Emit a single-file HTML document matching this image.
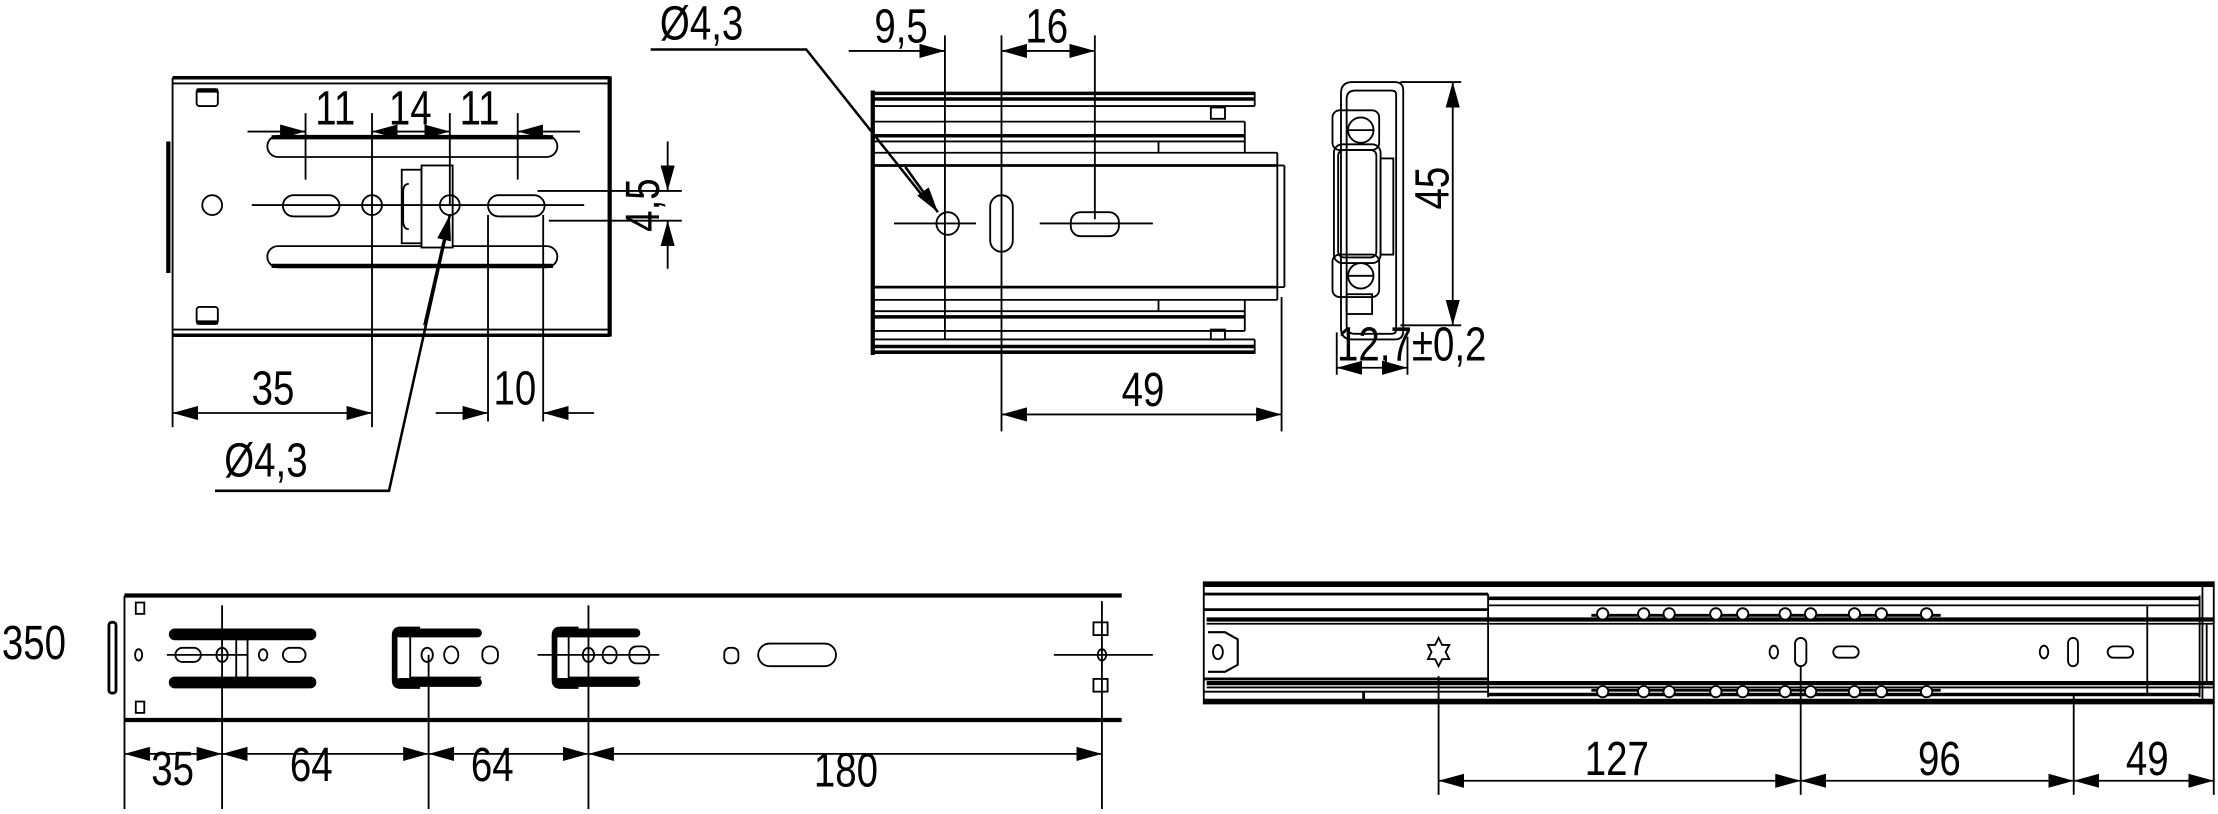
<!DOCTYPE html>
<html><head><meta charset="utf-8"><style>
html,body{margin:0;padding:0;background:#fff}
svg{display:block}
text{font-family:"Liberation Sans Narrow","Liberation Sans",sans-serif;font-size:34px;fill:#000}
</style></head><body>
<svg width="2218" height="814" viewBox="0 0 1568 575.5" preserveAspectRatio="none" xmlns="http://www.w3.org/2000/svg">
<defs>
<marker id="a" markerUnits="userSpaceOnUse" markerWidth="18" markerHeight="10" refX="18" refY="5" orient="auto-start-reverse"><path d="M0,0 L18,5 L0,10 Z" fill="#000"/></marker>
</defs>
<g fill="none" stroke="#000" stroke-width="1.3">
<!-- ===== TOP LEFT VIEW ===== -->
<line x1="122" y1="55" x2="431" y2="55" stroke-width="2.5"/>
<line x1="122" y1="59" x2="431" y2="59"/>
<line x1="122" y1="233" x2="431" y2="233"/>
<line x1="122" y1="237" x2="431" y2="237" stroke-width="2.5"/>
<line x1="122" y1="55" x2="122" y2="237"/>
<line x1="431" y1="54" x2="431" y2="238" stroke-width="3"/>
<line x1="119" y1="100" x2="119" y2="193" stroke-width="3"/>
<rect x="139" y="63" width="15" height="12" rx="2"/>
<rect x="139" y="217" width="15" height="12" rx="2"/>
<line x1="139" y1="64" x2="154" y2="64" stroke-width="3"/>
<line x1="139" y1="228" x2="154" y2="228" stroke-width="3"/>
<circle cx="150" cy="145" r="7"/>
<rect x="189" y="96" width="205" height="15" rx="7.5"/>
<line x1="192" y1="97" x2="391" y2="97" stroke-width="3"/>
<rect x="189" y="174" width="205" height="15" rx="7.5"/>
<line x1="192" y1="188" x2="391" y2="188" stroke-width="3"/>
<rect x="284" y="120" width="14" height="52"/>
<rect x="298" y="117" width="22" height="58" fill="#fff"/>
<path d="M289,130 q-4,0 -4,6 v20 q0,6 4,6"/>
<line x1="178" y1="145" x2="413" y2="145"/>
<rect x="200" y="138" width="40" height="15" rx="7.5"/>
<circle cx="263" cy="145" r="7"/>
<circle cx="318" cy="145" r="7"/>
<rect x="345" y="138" width="40" height="15" rx="7.5"/>
<line x1="216" y1="80" x2="216" y2="127"/>
<line x1="263" y1="80" x2="263" y2="302"/>
<line x1="318" y1="80" x2="318" y2="145"/>
<line x1="366" y1="80" x2="366" y2="127"/>
<line x1="175" y1="93" x2="216" y2="93" marker-end="url(#a)"/>
<line x1="263" y1="93" x2="318" y2="93" marker-start="url(#a)" marker-end="url(#a)"/>
<line x1="410" y1="93" x2="366" y2="93" marker-end="url(#a)"/>
<line x1="380" y1="135" x2="482" y2="135"/>
<line x1="388" y1="156" x2="482" y2="156"/>
<line x1="472" y1="100" x2="472" y2="135" marker-end="url(#a)"/>
<line x1="472" y1="190" x2="472" y2="156" marker-end="url(#a)"/>
<line x1="122" y1="237" x2="122" y2="302"/>
<line x1="345" y1="152" x2="345" y2="298"/>
<line x1="384" y1="152" x2="384" y2="298"/>
<line x1="122" y1="292" x2="263" y2="292" marker-start="url(#a)" marker-end="url(#a)"/>
<line x1="308" y1="292" x2="345" y2="292" marker-end="url(#a)"/>
<line x1="420" y1="292" x2="384" y2="292" marker-end="url(#a)"/>
<polyline points="152,347 275,347 316,163" stroke-width="1.8"/>
<line x1="300" y1="230" x2="318" y2="152" marker-end="url(#a)" stroke-width="1.8"/>

<!-- ===== TOP MIDDLE VIEW ===== -->
<polyline points="460,35 570,35 655,142" stroke-width="1.8"/>
<line x1="640" y1="118" x2="663" y2="150" marker-end="url(#a)" stroke-width="1.8"/>
<line x1="668" y1="25" x2="668" y2="240"/>
<line x1="708" y1="25" x2="708" y2="305"/>
<line x1="774" y1="25" x2="774" y2="155"/>
<line x1="600" y1="36" x2="668" y2="36" marker-end="url(#a)"/>
<line x1="708" y1="36" x2="774" y2="36" marker-start="url(#a)" marker-end="url(#a)"/>
<line x1="617" y1="64" x2="617" y2="251" stroke-width="3"/>
<line x1="617" y1="66" x2="887" y2="66" stroke-width="2.5"/>
<line x1="617" y1="70" x2="887" y2="70" stroke-width="2.5"/>
<line x1="887" y1="65" x2="887" y2="75"/>
<line x1="617" y1="75" x2="887" y2="75"/>
<line x1="617" y1="86" x2="880" y2="86"/>
<line x1="617" y1="96" x2="880" y2="96" stroke-width="2.5"/>
<line x1="617" y1="100" x2="880" y2="100"/>
<line x1="880" y1="86" x2="880" y2="108"/>
<line x1="617" y1="108" x2="903" y2="108"/>
<line x1="617" y1="117" x2="903" y2="117" stroke-width="2"/>
<line x1="903" y1="108" x2="903" y2="212"/>
<line x1="908" y1="117" x2="908" y2="203"/>
<line x1="903" y1="117" x2="908" y2="117"/>
<line x1="903" y1="203" x2="908" y2="203"/>
<line x1="617" y1="203" x2="903" y2="203" stroke-width="2"/>
<line x1="617" y1="212" x2="903" y2="212"/>
<line x1="617" y1="220" x2="880" y2="220"/>
<line x1="617" y1="224" x2="880" y2="224" stroke-width="2.5"/>
<line x1="617" y1="234" x2="880" y2="234"/>
<line x1="880" y1="212" x2="880" y2="234"/>
<line x1="617" y1="240" x2="887" y2="240"/>
<line x1="617" y1="245" x2="887" y2="245" stroke-width="2.5"/>
<line x1="617" y1="249" x2="887" y2="249" stroke-width="2.5"/>
<line x1="887" y1="240" x2="887" y2="250"/>
<line x1="819" y1="100" x2="819" y2="108"/>
<line x1="819" y1="212" x2="819" y2="220"/>
<rect x="856" y="76" width="10" height="8"/>
<rect x="856" y="233" width="10" height="7"/>
<line x1="632" y1="158" x2="690" y2="158"/>
<line x1="735" y1="158" x2="815" y2="158"/>
<circle cx="670" cy="158" r="8"/>
<rect x="700" y="138" width="16" height="40" rx="8"/>
<rect x="757" y="150" width="34" height="17" rx="7"/>
<line x1="906" y1="210" x2="906" y2="305"/>
<line x1="708" y1="293" x2="906" y2="293" marker-start="url(#a)" marker-end="url(#a)"/>

<!-- ===== SIDE PROFILE ===== -->
<path d="M948,66 q0,-8 8,-8 h30 q6,0 6,6 v170 q0,6 -6,6 h-30 q-8,0 -8,-8 z"/>
<path d="M952,70 q0,-6 6,-6 h26 q3,0 3,3 v166 q0,3 -3,3 h-26 q-6,0 -6,-6 z"/>
<rect x="943" y="102" width="33" height="84" rx="6"/>
<rect x="946" y="106" width="27" height="76" rx="4"/>
<rect x="976" y="112" width="9" height="68"/>
<rect x="942" y="78" width="33" height="28" rx="5"/>
<rect x="942" y="180" width="33" height="30" rx="5"/>
<circle cx="962" cy="92" r="9"/>
<circle cx="962" cy="195" r="9"/>
<line x1="953" y1="92" x2="971" y2="92"/>
<line x1="953" y1="195" x2="971" y2="195"/>
<rect x="952" y="208" width="18" height="14"/>
<line x1="990" y1="58" x2="1033" y2="58"/>
<line x1="990" y1="230" x2="1033" y2="230"/>
<line x1="1027" y1="58" x2="1027" y2="230" marker-start="url(#a)" marker-end="url(#a)"/>
<line x1="945" y1="235" x2="945" y2="265"/>
<line x1="995" y1="238" x2="995" y2="265"/>
<line x1="945" y1="260" x2="995" y2="260" marker-start="url(#a)" marker-end="url(#a)"/>

<!-- ===== BOTTOM LEFT VIEW ===== -->
<line x1="88" y1="421" x2="793" y2="421" stroke-width="3"/>
<line x1="88" y1="509" x2="793" y2="509" stroke-width="3"/>
<line x1="88" y1="421" x2="88" y2="509"/>
<rect x="77" y="440" width="5" height="50" rx="2" stroke-width="2"/>
<rect x="96" y="426" width="6" height="8"/>
<rect x="96" y="496" width="6" height="8"/>
<ellipse cx="98" cy="463" rx="2.5" ry="4"/>
<rect x="120" y="445" width="103" height="7" rx="3.5" fill="#000"/>
<rect x="120" y="479" width="103" height="7" rx="3.5" fill="#000"/>
<line x1="118" y1="463" x2="175" y2="463"/>
<rect x="124" y="458" width="18" height="10" rx="5"/>
<ellipse cx="157" cy="463" rx="4" ry="5"/>
<rect x="167" y="452" width="8" height="27"/>
<ellipse cx="186" cy="463" rx="3" ry="4"/>
<rect x="200" y="458" width="16" height="10" rx="5"/>
<path d="M297,445 h-14 q-4,0 -4,4 v32 q0,4 4,4 h14" stroke-width="4"/>
<path d="M340,447 h-50 v32 h50"/>
<rect x="280" y="445" width="60" height="5" rx="2.5" fill="#000"/>
<rect x="280" y="480" width="60" height="5" rx="2.5" fill="#000"/>
<ellipse cx="302" cy="463" rx="4" ry="5"/>
<ellipse cx="319" cy="463" rx="5" ry="6"/>
<rect x="341" y="457" width="11" height="12" rx="5"/>
<path d="M409,445 h-13 q-4,0 -4,4 v32 q0,4 4,4 h13" stroke-width="4"/>
<path d="M452,447 h-50 v32 h50"/>
<rect x="392" y="445" width="60" height="5" rx="2.5" fill="#000"/>
<rect x="392" y="480" width="60" height="5" rx="2.5" fill="#000"/>
<line x1="380" y1="463" x2="466" y2="463"/>
<ellipse cx="416" cy="463" rx="4" ry="5"/>
<ellipse cx="431" cy="463" rx="5" ry="6"/>
<rect x="445" y="457" width="14" height="12" rx="5"/>
<rect x="512" y="458" width="10" height="11" rx="4"/>
<rect x="536" y="455" width="55" height="16" rx="8"/>
<rect x="773" y="440" width="10" height="9"/>
<rect x="773" y="480" width="10" height="9"/>
<ellipse cx="779" cy="463" rx="3" ry="4"/>
<line x1="745" y1="463" x2="815" y2="463"/>
<line x1="88" y1="509" x2="88" y2="572"/>
<line x1="157" y1="428" x2="157" y2="572"/>
<line x1="303" y1="463" x2="303" y2="572"/>
<line x1="416" y1="428" x2="416" y2="572"/>
<line x1="779" y1="425" x2="779" y2="572"/>
<line x1="88" y1="533" x2="157" y2="533" marker-start="url(#a)" marker-end="url(#a)"/>
<line x1="157" y1="533" x2="303" y2="533" marker-start="url(#a)" marker-end="url(#a)"/>
<line x1="303" y1="533" x2="416" y2="533" marker-start="url(#a)" marker-end="url(#a)"/>
<line x1="416" y1="533" x2="779" y2="533" marker-start="url(#a)" marker-end="url(#a)"/>

<!-- ===== BOTTOM RIGHT VIEW ===== -->
<line x1="851" y1="413" x2="1565" y2="413" stroke-width="4"/>
<line x1="851" y1="496" x2="1565" y2="496" stroke-width="4"/>
<line x1="851" y1="411" x2="851" y2="498"/>
<line x1="1565" y1="411" x2="1565" y2="498"/>
<line x1="1557" y1="413" x2="1557" y2="496"/>
<line x1="851" y1="420" x2="1052" y2="420" stroke-width="2"/>
<line x1="851" y1="431" x2="1052" y2="431" stroke-width="2"/>
<line x1="851" y1="480" x2="1052" y2="480" stroke-width="2"/>
<line x1="851" y1="489" x2="1052" y2="489"/>
<line x1="1052" y1="420" x2="1052" y2="493"/>
<line x1="1052" y1="423" x2="1555" y2="423" stroke-width="2.5"/>
<line x1="1052" y1="428" x2="1555" y2="428"/>
<line x1="1052" y1="491" x2="1555" y2="491" stroke-width="2.5"/>
<line x1="1555" y1="421" x2="1555" y2="493"/>
<line x1="1518" y1="428" x2="1518" y2="491"/>
<line x1="853" y1="438" x2="1565" y2="438" stroke-width="3"/>
<line x1="853" y1="441" x2="1565" y2="441"/>
<line x1="853" y1="483" x2="1565" y2="483" stroke-width="3"/>
<line x1="853" y1="486" x2="1565" y2="486"/>
<line x1="1560" y1="441" x2="1560" y2="483"/>
<path d="M854,447 h12 l9,5 v18 l-9,5 h-12" stroke-width="1.5"/>
<ellipse cx="861" cy="461" rx="3.5" ry="5"/>
<line x1="964" y1="489" x2="964" y2="496" stroke-width="2"/>
<line x1="1125" y1="435" x2="1372" y2="435" stroke-width="2"/>
<line x1="1125" y1="488" x2="1372" y2="488" stroke-width="2"/>
<g fill="#fff">
<circle cx="1133" cy="434" r="4"/><circle cx="1162" cy="434" r="4"/><circle cx="1180" cy="434" r="4"/><circle cx="1213" cy="434" r="4"/><circle cx="1232" cy="434" r="4"/><circle cx="1262" cy="434" r="4"/><circle cx="1280" cy="434" r="4"/><circle cx="1311" cy="434" r="4"/><circle cx="1330" cy="434" r="4"/><circle cx="1362" cy="434" r="4"/>
<circle cx="1133" cy="489" r="4"/><circle cx="1162" cy="489" r="4"/><circle cx="1180" cy="489" r="4"/><circle cx="1213" cy="489" r="4"/><circle cx="1232" cy="489" r="4"/><circle cx="1262" cy="489" r="4"/><circle cx="1280" cy="489" r="4"/><circle cx="1311" cy="489" r="4"/><circle cx="1330" cy="489" r="4"/><circle cx="1362" cy="489" r="4"/>
</g>
<path d="M1017,451 l2.5,5 5,0 -2.5,5 2.5,5 -5,0 -2.5,5 -2.5,-5 -5,0 2.5,-5 -2.5,-5 5,0 z"/>
<ellipse cx="1254" cy="461" rx="3" ry="4.5"/>
<rect x="1269" y="451" width="8" height="20" rx="4"/>
<rect x="1296" y="457" width="18" height="8" rx="4"/>
<ellipse cx="1445" cy="461" rx="3" ry="4.5"/>
<rect x="1462" y="451" width="7" height="20" rx="3.5"/>
<rect x="1490" y="457" width="18" height="8" rx="4"/>
<line x1="1017" y1="478" x2="1017" y2="562"/>
<line x1="1273" y1="471" x2="1273" y2="562"/>
<line x1="1466" y1="491" x2="1466" y2="562"/>
<line x1="1565" y1="498" x2="1565" y2="562"/>
<line x1="1017" y1="552" x2="1273" y2="552" marker-start="url(#a)" marker-end="url(#a)"/>
<line x1="1273" y1="552" x2="1466" y2="552" marker-start="url(#a)" marker-end="url(#a)"/>
<line x1="1466" y1="552" x2="1565" y2="552" marker-start="url(#a)" marker-end="url(#a)"/>
</g>

<!-- ===== TEXT (narrowed) ===== -->
<g transform="translate(237,88) scale(0.8,1)"><text text-anchor="middle">11</text></g>
<g transform="translate(290,88) scale(0.8,1)"><text text-anchor="middle">14</text></g>
<g transform="translate(339,88) scale(0.8,1)"><text text-anchor="middle">11</text></g>
<g transform="translate(466,145) rotate(-90) scale(0.8,1)"><text text-anchor="middle">4,5</text></g>
<g transform="translate(193,286) scale(0.8,1)"><text text-anchor="middle">35</text></g>
<g transform="translate(364,286) scale(0.8,1)"><text text-anchor="middle">10</text></g>
<g transform="translate(188,337) scale(0.8,1)"><text text-anchor="middle">Ø4,3</text></g>
<g transform="translate(496,28) scale(0.8,1)"><text text-anchor="middle">Ø4,3</text></g>
<g transform="translate(637,30) scale(0.8,1)"><text text-anchor="middle">9,5</text></g>
<g transform="translate(740,30) scale(0.8,1)"><text text-anchor="middle">16</text></g>
<g transform="translate(808,287) scale(0.8,1)"><text text-anchor="middle">49</text></g>
<g transform="translate(1024,133) rotate(-90) scale(0.8,1)"><text text-anchor="middle">45</text></g>
<g transform="translate(998,255) scale(0.8,1)"><text text-anchor="middle">12,7±0,2</text></g>
<g transform="translate(24,466) scale(0.8,1)"><text text-anchor="middle">350</text></g>
<g transform="translate(122,555) scale(0.8,1)"><text text-anchor="middle">35</text></g>
<g transform="translate(220,552) scale(0.8,1)"><text text-anchor="middle">64</text></g>
<g transform="translate(348,552) scale(0.8,1)"><text text-anchor="middle">64</text></g>
<g transform="translate(598,556) scale(0.8,1)"><text text-anchor="middle">180</text></g>
<g transform="translate(1143,548) scale(0.8,1)"><text text-anchor="middle">127</text></g>
<g transform="translate(1371,548) scale(0.8,1)"><text text-anchor="middle">96</text></g>
<g transform="translate(1518,548) scale(0.8,1)"><text text-anchor="middle">49</text></g>
</svg>
</body></html>
